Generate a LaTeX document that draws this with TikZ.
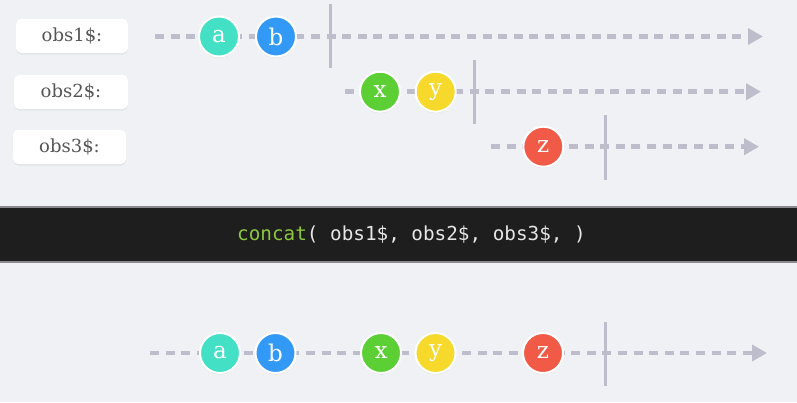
\documentclass[tikz,border=0pt]{standalone}
\usepackage{fontspec}
\setmainfont{DejaVu Serif}
\setmonofont{DejaVu Sans Mono}
\usetikzlibrary{arrows.meta,shadows}
\definecolor{bg}{HTML}{F0F1F4}
\definecolor{band}{HTML}{1E1E1F}
\definecolor{bandedge}{HTML}{8A8A8E}
\definecolor{dashc}{HTML}{BDBDCB}
\definecolor{labtext}{HTML}{555555}
\definecolor{ca}{HTML}{43E0C6}
\definecolor{cb}{HTML}{3399F7}
\definecolor{cx}{HTML}{5CCF35}
\definecolor{cy}{HTML}{F6D92B}
\definecolor{cz}{HTML}{F05A46}
\definecolor{codegreen}{HTML}{8CC63F}
\definecolor{codetext}{HTML}{E6E6E6}
\tikzset{
  labelbox/.style={fill=white, rounded corners=5pt, minimum width=112pt, minimum height=34pt,
    inner sep=0pt, font=\fontsize{18}{18}\selectfont, text=labtext,
    drop shadow={opacity=0.12, shadow xshift=0pt, shadow yshift=-1.5pt}},
  timeline/.style={draw=dashc, line width=4.5pt, dash pattern=on 9pt off 6.6pt,
    -{Triangle[length=15pt,width=16pt]}},
  complete/.style={draw=dashc, line width=3pt},
  marble/.style={circle, minimum size=40pt, inner sep=0pt, draw=white, line width=2pt,
    text=white, font=\fontsize{23}{23}\selectfont,
    drop shadow={opacity=0.15, shadow xshift=0pt, shadow yshift=-1.5pt}},
}
\begin{document}
\begin{tikzpicture}[x=1pt,y=-1pt]
\fill[bg] (0,0) rectangle (797,402);
\useasboundingbox (0,0) rectangle (797,402);
% band
\fill[band] (0,207) rectangle (797,262);
\draw[bandedge, line width=1.2pt] (0,207) -- (797,207);
\draw[bandedge, line width=1.2pt] (0,262) -- (797,262);
\node[font=\ttfamily\fontsize{19.3}{19.3}\selectfont, text=codetext, inner sep=0pt] (code) at (411.5,235)
  {\textcolor{codegreen}{concat}( obs1\$, obs2\$, obs3\$, )};
% label boxes
\node[labelbox] (l1) at (72,36) {obs1\$:};
\node[labelbox, minimum width=114pt] (l2) at (71,92) {obs2\$:};
\node[labelbox, minimum width=113pt] (l3) at (69.5,147) {obs3\$:};
% timeline coordinates
\coordinate (s1) at (155,36.5);  \coordinate (e1) at (763,36.5);
\coordinate (s2) at (345,91.7);  \coordinate (e2) at (761,91.7);
\coordinate (s3) at (491,146.7); \coordinate (e3) at (759,146.7);
\coordinate (s4) at (150,353);   \coordinate (e4) at (767,353);
\draw[timeline] (s1) -- (e1);
\draw[timeline] (s2) -- (e2);
\draw[timeline] (s3) -- (e3);
\draw[timeline] (s4) -- (e4);
% completion bars
\coordinate (c1t) at (330,4);    \coordinate (c1b) at (330,68);
\coordinate (c2t) at (474.6,60); \coordinate (c2b) at (474.6,124);
\coordinate (c3t) at (605,115);  \coordinate (c3b) at (605,180);
\coordinate (c4t) at (605,322);  \coordinate (c4b) at (605,386);
\draw[complete] (c1t) -- (c1b);
\draw[complete] (c2t) -- (c2b);
\draw[complete] (c3t) -- (c3b);
\draw[complete] (c4t) -- (c4b);
% marbles
\node[marble, fill=ca] (a1) at (219,36.5) {a};
\node[marble, fill=cb] (b1) at (276,36.5) {b};
\node[marble, fill=cx] (x2) at (380,91.7) {x};
\node[marble, fill=cy] (y2) at (435.7,91.7) {y};
\node[marble, fill=cz] (z3) at (543.3,146.7) {z};
\node[marble, fill=ca] (a4) at (220,353) {a};
\node[marble, fill=cb] (b4) at (275.5,353) {b};
\node[marble, fill=cx] (x4) at (381,353) {x};
\node[marble, fill=cy] (y4) at (435.5,353) {y};
\node[marble, fill=cz] (z4) at (543,353) {z};
\end{tikzpicture}
\end{document}
